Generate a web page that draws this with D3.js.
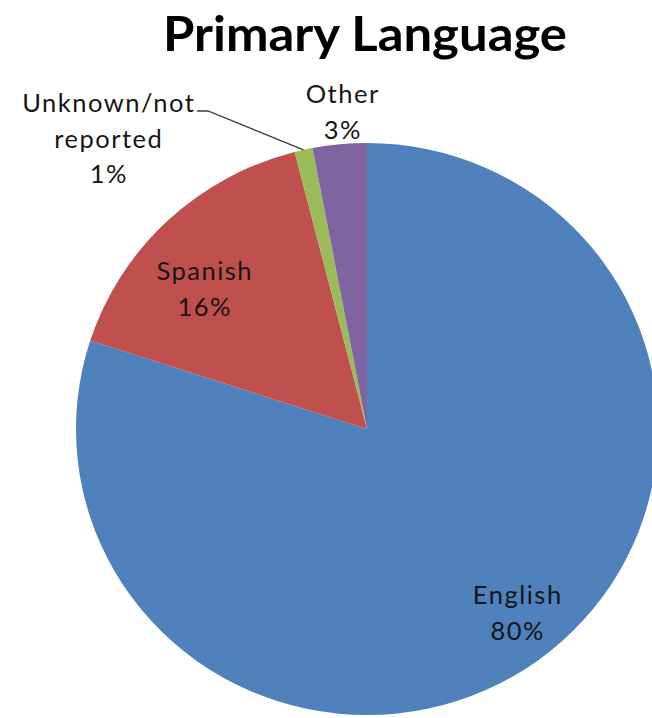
<!DOCTYPE html>
<html>
<head>
<meta charset="utf-8">
<script src="https://cdn.jsdelivr.net/npm/d3@7"></script>
<style>
  html, body { margin: 0; padding: 0; background: #fff; }
  svg { display: block; }
</style>
</head>
<body>
<script>
// Primary language shares (percent)
const categories = ["English", "Spanish", "Unknown/not reported", "Other"];
const values = [80, 16, 1, 3];
const colors = ["#4F81BD", "#C0504D", "#9BBB59", "#8064A2"];
const labelLines = [
  ["English", "80%"],
  ["Spanish", "16%"],
  ["Unknown/not", "reported", "1%"],
  ["Other", "3%"]
];

const W = 652, H = 718;
const cx = 367, cy = 429;
const R = 286, xStretch = 1.0175;
const lineGap = 35.5;

const svg = d3.select("body").append("svg")
  .attr("width", W).attr("height", H);

svg.append("text")
  .attr("x", 365).attr("y", 51)
  .attr("text-anchor", "middle")
  .attr("font-family", "Lato, 'Open Sans', sans-serif")
  .attr("font-weight", "bold")
  .attr("font-size", 47)
  .attr("textLength", 404)
  .attr("lengthAdjust", "spacingAndGlyphs")
  .attr("fill", "#000")
  .text("Primary Language");

const pie = d3.pie().sort(null).value(d => d)(values);
const arc = d3.arc().innerRadius(0).outerRadius(R);

const g = svg.append("g")
  .attr("transform", `translate(${cx},${cy}) scale(${xStretch},1)`);

g.selectAll("path").data(pie).join("path")
  .attr("d", arc)
  .attr("fill", (d, i) => colors[i]);

// Label anchors relative to the pie centre (first-line cap centre)
const labelAnchor = {
  "English": [150, 166],
  "Spanish": [-163, -158],
  "Unknown/not reported": [-259, -326],
  "Other": [-25, -335]
};

const font = "Lato, 'Open Sans', sans-serif";
const fs = 25.5;
categories.forEach((c, i) => {
  const [ax, ay] = labelAnchor[c];
  const t = svg.append("text")
    .attr("text-anchor", "middle")
    .attr("font-family", font)
    .attr("font-size", fs)
    .attr("letter-spacing", 1.5)
    .attr("fill", "#161616");
  labelLines[i].forEach((line, k) => {
    t.append("tspan")
      .attr("x", cx + ax + 0.75)
      .attr("y", cy + ay + k * lineGap + 9)
      .text(line);
  });
});

// Leader line for the small "Unknown/not reported" slice
const u = pie[2];
const uMid = (u.startAngle + u.endAngle) / 2;
const edge = [cx + Math.sin(uMid) * R * xStretch, cy - Math.cos(uMid) * R];
const lineStart = [cx - 170, cy - 318];
svg.append("polyline")
  .attr("points", [lineStart, [lineStart[0] + 11, lineStart[1]], edge].map(p => p.join(",")).join(" "))
  .attr("fill", "none")
  .attr("stroke", "#404040")
  .attr("stroke-width", 1.3);
</script>
</body>
</html>
